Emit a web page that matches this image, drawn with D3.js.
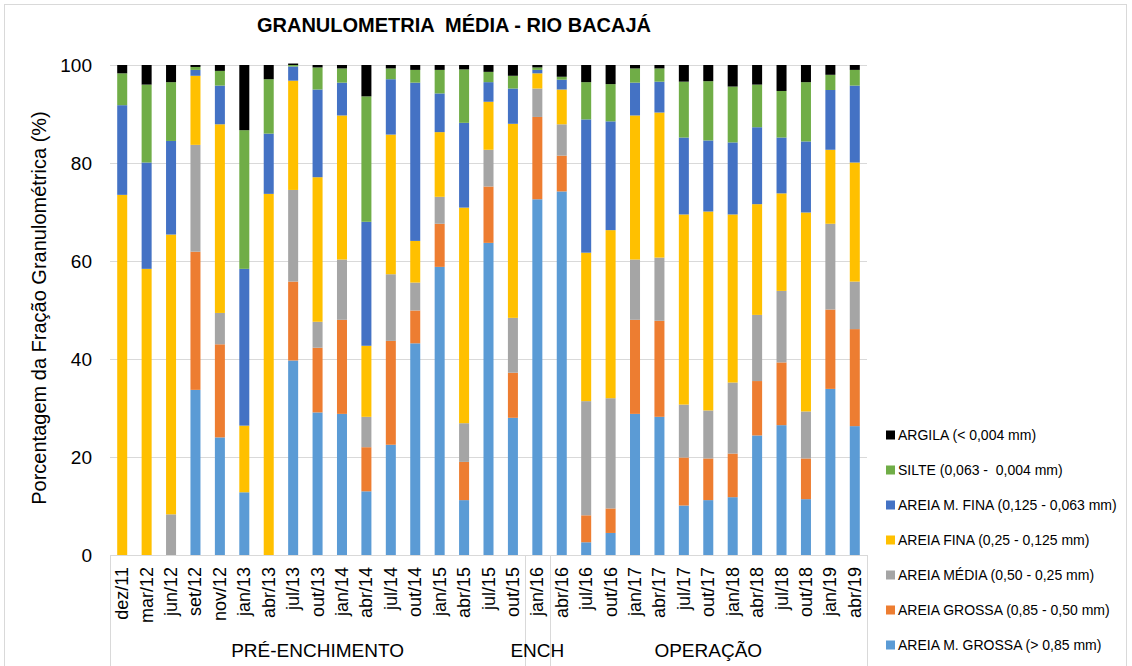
<!DOCTYPE html>
<html>
<head>
<meta charset="utf-8">
<script src="https://cdn.jsdelivr.net/npm/d3@7/dist/d3.min.js"></script>
<style>
  body { margin: 0; background: #fff; }
  svg text { font-family: "Liberation Sans", Arial, sans-serif; white-space: pre; }
</style>
</head>
<body>
<div id="chart"></div>
<script>
// plot area margins, legend lives in the right margin
const margin = { top: 65, right: 265, bottom: 111, left: 110 };
const width = 1132 - margin.left - margin.right;
const height = 666 - margin.top - margin.bottom;

// categories (sampling campaigns)
const categories = [
  "dez/11", "mar/12", "jun/12", "set/12", "nov/12", "jan/13", "abr/13", "jul/13",
  "out/13", "jan/14", "abr/14", "jul/14", "out/14", "jan/15", "abr/15", "jul/15",
  "out/15", "jan/16", "abr/16", "jul/16", "out/16", "jan/17", "abr/17", "jul/17",
  "out/17", "jan/18", "abr/18", "jul/18", "out/18", "jan/19", "abr/19",
];

// second level of the category axis
const groupNames = ["PRÉ-ENCHIMENTO", "ENCH", "OPERAÇÃO"];
const groupSizes = [17, 1, 13];

// series values (%), bottom to top of the stack
const areiaMGrossa = [0, 0, 0, 33.7, 24.0, 12.8, 0, 39.7, 29.1, 28.8, 13.0, 22.5, 43.2, 58.8, 11.2, 63.7, 28.0, 72.6, 74.2, 2.6, 4.5, 28.8, 28.2, 10.1, 11.2, 11.8, 24.4, 26.5, 11.4, 33.9, 26.3];
const areiaGrossa = [0, 0, 0, 28.2, 19.0, 0, 0, 16.1, 13.2, 19.2, 9.0, 21.2, 6.7, 8.8, 7.8, 11.5, 9.2, 16.8, 7.3, 5.5, 5.0, 19.2, 19.6, 9.8, 8.5, 8.9, 11.1, 12.8, 8.3, 16.2, 19.8];
const areiaMedia = [0, 0, 8.3, 21.8, 6.4, 0, 0, 18.7, 5.3, 12.3, 6.2, 13.6, 5.7, 5.5, 7.9, 7.5, 11.2, 5.8, 6.4, 23.3, 22.5, 12.3, 12.9, 10.8, 9.8, 14.5, 13.5, 14.6, 9.6, 17.5, 9.7];
const areiaFina = [73.5, 58.4, 57.1, 14.1, 38.5, 13.6, 73.7, 22.3, 29.5, 29.4, 14.5, 28.5, 8.5, 13.2, 44.0, 9.8, 39.6, 3.1, 7.1, 30.3, 34.3, 29.4, 29.6, 38.8, 40.6, 34.3, 22.6, 19.9, 40.6, 15.1, 24.3];
const areiaMFina = [18.3, 21.7, 19.1, 1.2, 7.9, 32.0, 12.3, 2.9, 17.9, 6.7, 25.3, 11.3, 32.3, 7.9, 17.3, 4.0, 7.2, 0.7, 2.0, 27.2, 22.2, 6.7, 6.3, 15.7, 14.5, 14.7, 15.7, 11.4, 14.5, 12.2, 15.7];
const silte = [6.5, 15.9, 12.0, 0.6, 3.0, 28.3, 11.1, 0.3, 4.5, 2.9, 25.6, 2.2, 2.6, 4.8, 10.9, 2.1, 2.6, 0.5, 0.6, 7.6, 7.6, 2.9, 2.7, 11.4, 12.1, 11.4, 8.7, 9.5, 12.1, 3.1, 3.2];
const argila = [1.7, 4.0, 3.5, 0.4, 1.2, 13.3, 2.9, 0.3, 0.5, 0.7, 6.4, 0.7, 1.0, 1.0, 0.9, 1.4, 2.2, 0.5, 2.4, 3.5, 3.9, 0.7, 0.7, 3.4, 3.3, 4.4, 4.0, 5.3, 3.5, 2.0, 1.0];

const yTicks = [0, 20, 40, 60, 80, 100];

// series keys, labels and colours (stack order, bottom first)
const seriesKeys = ["mgrossa", "grossa", "media", "fina", "mfina", "silte", "argila"];
const seriesLabels = [
  "AREIA M. GROSSA (> 0,85 mm)",
  "AREIA GROSSA (0,85 - 0,50 mm)",
  "AREIA MÉDIA (0,50 - 0,25 mm)",
  "AREIA FINA (0,25 - 0,125 mm)",
  "AREIA M. FINA (0,125 - 0,063 mm)",
  "SILTE (0,063 -  0,004 mm)",
  "ARGILA (< 0,004 mm)",
];
const seriesColors = ["#5B9BD5", "#ED7D31", "#A5A5A5", "#FFC000", "#4472C4", "#70AD47", "#000000"];
const seriesValues = [areiaMGrossa, areiaGrossa, areiaMedia, areiaFina, areiaMFina, silte, argila];

// table for d3.stack
const table = categories.map((c, i) => {
  const row = { cat: c };
  seriesKeys.forEach((k, j) => { row[k] = seriesValues[j][i]; });
  return row;
});

const svgRoot = d3.select("#chart")
  .append("svg")
  .attr("width", 1132)
  .attr("height", 666);

// outer chart border (excel style)
svgRoot.append("rect")
  .attr("x", 4.5).attr("y", 4.5)
  .attr("width", 1122).attr("height", 680)
  .attr("fill", "none")
  .attr("stroke", "#d9d9d9");

const svg = svgRoot.append("g")
  .attr("transform", `translate(${margin.left},${margin.top})`);

const x = d3.scaleBand().domain(categories).range([0, width]).paddingInner(0.59).paddingOuter(0.295);
const y = d3.scaleLinear().domain([0, 100]).range([height, 0]);

// gridlines
svg.append("g")
  .selectAll("line")
  .data(yTicks.slice(1))
  .enter()
  .append("line")
  .attr("x1", 0).attr("x2", width)
  .attr("y1", (d) => y(d) + 0.5).attr("y2", (d) => y(d) + 0.5)
  .attr("stroke", "#d9d9d9");

// y axis labels only
const yAxis = svg.append("g")
  .call(d3.axisLeft(y).tickValues(yTicks).tickSize(0).tickPadding(18));
yAxis.select(".domain").remove();
yAxis.selectAll("text").style("font-size", "19px").attr("fill", "#000");

// stacked bars
const stacked = d3.stack().keys(seriesKeys)(table);
svg.append("g")
  .selectAll("g")
  .data(stacked)
  .enter()
  .append("g")
  .attr("fill", (d, i) => seriesColors[i])
  .selectAll("rect")
  .data((d) => d)
  .enter()
  .append("rect")
  .attr("x", (d) => x(d.data.cat))
  .attr("width", x.bandwidth())
  .attr("y", (d) => y(d[1]))
  .attr("height", (d) => y(d[0]) - y(d[1]));

// category axis: baseline + rotated labels
svg.append("line")
  .attr("x1", 0).attr("x2", width)
  .attr("y1", height + 0.5).attr("y2", height + 0.5)
  .attr("stroke", "#d9d9d9");

svg.append("g")
  .selectAll("text")
  .data(categories)
  .enter()
  .append("text")
  .attr("transform", (d) => `translate(${x(d) + x.bandwidth() / 2 + 6},${height + 12}) rotate(-90)`)
  .attr("text-anchor", "end")
  .style("font-size", "18px")
  .text((d) => d);

// group separators and group labels
const step = x.step();
let bounds = [0];
groupSizes.forEach((n) => bounds.push(bounds[bounds.length - 1] + n));
svg.append("g")
  .selectAll("line")
  .data(bounds)
  .enter()
  .append("line")
  .attr("x1", (d) => Math.round(d * step) + 0.5)
  .attr("x2", (d) => Math.round(d * step) + 0.5)
  .attr("y1", height)
  .attr("y2", height + 120)
  .attr("stroke", "#d9d9d9");

svg.append("g")
  .selectAll("text")
  .data(groupNames)
  .enter()
  .append("text")
  .attr("x", (d, i) => ((bounds[i] + bounds[i + 1]) / 2) * step)
  .attr("y", height + 102)
  .attr("text-anchor", "middle")
  .style("font-size", "19px")
  .text((d) => d);

// y axis title
svg.append("text")
  .attr("transform", "rotate(-90)")
  .attr("x", -height / 2 + 2)
  .attr("y", -margin.left + 46)
  .attr("text-anchor", "middle")
  .style("font-size", "20px")
  .text("Porcentagem da Fração Granulométrica (%)");

// chart title
svgRoot.append("text")
  .attr("x", 454)
  .attr("y", 32)
  .attr("text-anchor", "middle")
  .style("font-size", "20px")
  .style("font-weight", "bold")
  .text("GRANULOMETRIA  MÉDIA - RIO BACAJÁ");

// legend, top item is ARGILA
const legendOrder = d3.range(seriesKeys.length).reverse();
const legend = svgRoot.append("g")
  .selectAll("g")
  .data(legendOrder)
  .enter()
  .append("g")
  .attr("transform", (d, i) => `translate(886,${435 + i * 35})`);

legend.append("rect")
  .attr("x", 0).attr("y", -4.5)
  .attr("width", 9).attr("height", 9)
  .attr("fill", (d) => seriesColors[d]);

legend.append("text")
  .attr("x", 12)
  .attr("y", 5)
  .style("font-size", "14px")
  .text((d) => seriesLabels[d]);
</script>
</body>
</html>
